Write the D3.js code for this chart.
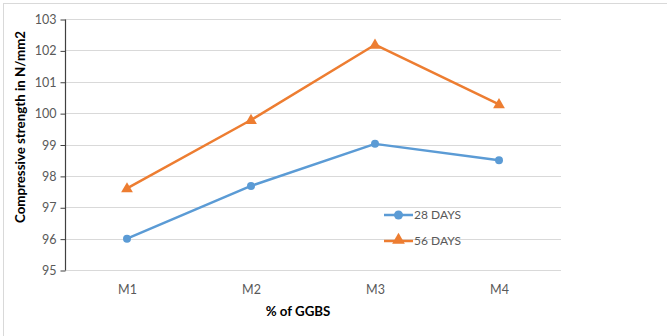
<!DOCTYPE html>
<html>
<head>
<meta charset="utf-8">
<script src="https://cdn.jsdelivr.net/npm/d3@7"></script>
<style>
  html, body { margin: 0; padding: 0; background: #fff; }
  svg { display: block; }
</style>
</head>
<body>
<svg id="chart" width="667" height="336"></svg>
<script>
// Mix designs and compressive strength results (N/mm2)
const categories = ["M1", "M2", "M3", "M4"];
const days28 = [96.0, 97.68, 99.02, 98.5];
const days56 = [97.6, 99.78, 102.18, 100.28];
const seriesNames = ["28 DAYS", "56 DAYS"];
const yTicks = [95, 96, 97, 98, 99, 100, 101, 102, 103];

const svg = d3.select("#chart");
const W = 667, H = 336;
const plot = { left: 65, right: 561, top: 19, bottom: 270 };
const fontFam = "Lato, 'Open Sans', 'Liberation Sans', sans-serif";
const blue = "#5b9bd5", orange = "#ed7d31", textGray = "#595959";
const tickSize = "12.5px", titleSize = "13.3px";

// Chart frame (top and left edges)
svg.append("line").attr("x1", 3).attr("x2", W).attr("y1", 3.5).attr("y2", 3.5)
  .attr("stroke", "#d9d9d9").attr("stroke-width", 1);
svg.append("line").attr("x1", 3.5).attr("x2", 3.5).attr("y1", 3).attr("y2", H)
  .attr("stroke", "#d9d9d9").attr("stroke-width", 1);

const x = d3.scalePoint().domain(categories)
  .range([plot.left, plot.right]).padding(0.5);
const y = d3.scaleLinear().domain([95, 103]).range([plot.bottom, plot.top]);

// Horizontal gridlines
svg.append("g").selectAll("line").data(yTicks.filter(d => d !== 95)).join("line")
  .attr("x1", plot.left).attr("x2", plot.right)
  .attr("y1", d => Math.round(y(d)) + 0.5).attr("y2", d => Math.round(y(d)) + 0.5)
  .attr("stroke", "#d9d9d9").attr("stroke-width", 1);

// X axis baseline
svg.append("line").attr("x1", plot.left).attr("x2", plot.right)
  .attr("y1", plot.bottom + 0.5).attr("y2", plot.bottom + 0.5)
  .attr("stroke", "#d9d9d9").attr("stroke-width", 1);

// Y axis
const yAxis = svg.append("g")
  .attr("transform", `translate(${plot.left + 0.5},0.5)`)
  .call(d3.axisLeft(y).tickValues(yTicks).tickSize(5).tickPadding(4).tickFormat(d3.format("d")));
yAxis.select(".domain").attr("stroke", "#404040").attr("stroke-width", 1.2)
  .attr("d", `M0,${y(103)}V${y(95)}`);
yAxis.selectAll(".tick line").attr("stroke", "#404040");
yAxis.selectAll(".tick text").attr("fill", textGray)
  .style("font-family", fontFam).style("font-size", tickSize);

// X axis labels
const xAxis = svg.append("g")
  .attr("transform", `translate(0,${plot.bottom})`)
  .call(d3.axisBottom(x).tickSize(0).tickPadding(15));
xAxis.select(".domain").remove();
xAxis.selectAll(".tick text").attr("fill", textGray)
  .style("font-family", fontFam).style("font-size", tickSize);

// Axis titles
svg.append("text").attr("x", 298).attr("y", 316).attr("text-anchor", "middle")
  .style("font-family", fontFam).style("font-size", titleSize).style("font-weight", "bold")
  .attr("fill", "#000").text("% of GGBS");
svg.append("text").attr("transform", "translate(25,127) rotate(-90)")
  .attr("text-anchor", "middle")
  .style("font-family", fontFam).style("font-size", titleSize).style("font-weight", "bold")
  .attr("fill", "#000").text("Compressive strength in N/mm2");

const line = d3.line().x((d, i) => x(categories[i])).y(d => y(d));
const tri = d3.symbol().type(d3.symbolTriangle).size(60);

// 28 days series
svg.append("path").datum(days28).attr("d", line)
  .attr("fill", "none").attr("stroke", blue).attr("stroke-width", 2.5).attr("stroke-linejoin", "round");
svg.append("g").selectAll("circle").data(days28).join("circle")
  .attr("cx", (d, i) => x(categories[i])).attr("cy", d => y(d)).attr("r", 4)
  .attr("fill", blue);

// 56 days series
svg.append("path").datum(days56).attr("d", line)
  .attr("fill", "none").attr("stroke", orange).attr("stroke-width", 2.5).attr("stroke-linejoin", "round");
svg.append("g").selectAll("path").data(days56).join("path")
  .attr("d", tri)
  .attr("transform", (d, i) => `translate(${x(categories[i])},${y(d) + 0.5})`)
  .attr("fill", orange);

// Legend
const legend = svg.append("g");
const legendRows = [
  { name: seriesNames[0], color: blue, shape: "circle", yPos: 215 },
  { name: seriesNames[1], color: orange, shape: "triangle", yPos: 241 }
];
legendRows.forEach(r => {
  legend.append("line").attr("x1", 384).attr("x2", 413).attr("y1", r.yPos).attr("y2", r.yPos)
    .attr("stroke", r.color).attr("stroke-width", 2.5);
  if (r.shape === "circle") {
    legend.append("circle").attr("cx", 398.5).attr("cy", r.yPos).attr("r", 4.5).attr("fill", r.color);
  } else {
    legend.append("path").attr("d", d3.symbol().type(d3.symbolTriangle).size(70))
      .attr("transform", `translate(398.5,${r.yPos - 1})`).attr("fill", r.color);
  }
  legend.append("text").attr("x", 414).attr("y", r.yPos + 4)
    .style("font-family", fontFam).style("font-size", "12px")
    .attr("fill", textGray).text(r.name);
});
</script>
</body>
</html>
